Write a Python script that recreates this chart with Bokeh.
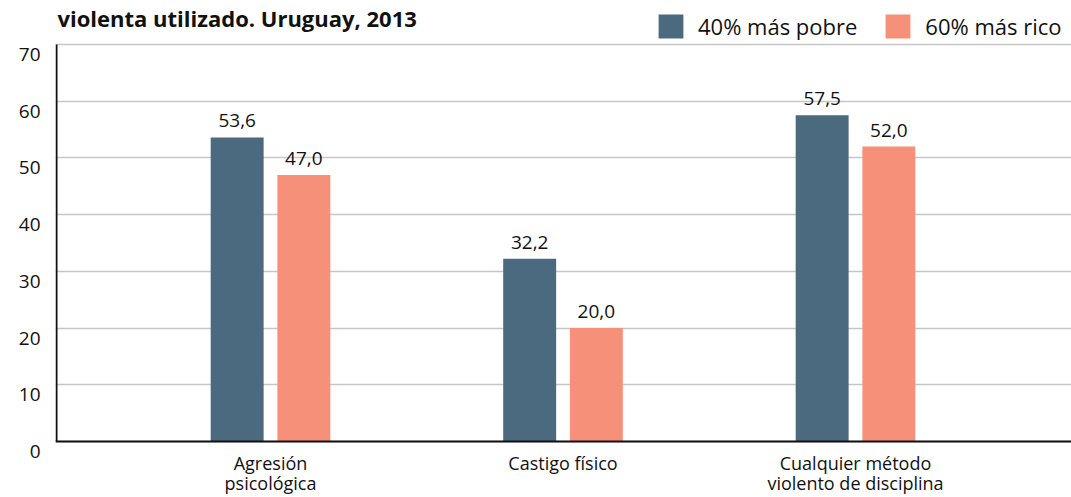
from bokeh.plotting import figure
from bokeh.models import (Range1d, FixedTicker, Label, Legend, LegendItem, ColumnDataSource,
                          LinearAxis, Span)
from bokeh.transform import dodge
from bokeh.core.properties import value
from bokeh.embed import file_html
from bokeh.resources import INLINE

categories = ["Agresión\npsicológica", "Castigo físico", "Cualquier método\nviolento de disciplina"]
series_names = ["40% más pobre", "60% más rico"]
pobre = [53.6, 32.2, 57.5]
rico = [47.0, 20.0, 52.0]
y_ticks = [0, 10, 20, 30, 40, 50, 60, 70]
title_text = "violenta utilizado. Uruguay, 2013"

c_pobre = "#4b6a80"
c_rico = "#f79078"
FONT = "Open Sans"
INK = "#111111"

# geometry of the frame
W, H = 1071, 497
LEFT, BOTTOM = 55, 45
PX_X = 292.5                       # pixels per category step
PX_Y = 398 / 70                    # pixels per y unit
frame_w = W - LEFT
frame_h = H - BOTTOM
x_start = -(270 - LEFT) / PX_X
y_start = -10 / PX_Y               # frame extends 10px below zero
y_end = y_start + frame_h / PX_Y
shift = -y_start                   # label axis shifted so labels sit 10px below gridlines

idx = list(range(len(categories)))
line1 = {i: c.split("\n")[0] for i, c in zip(idx, categories)}
line2 = {i: (c.split("\n")[1] if "\n" in c else "") for i, c in zip(idx, categories)}

src = ColumnDataSource(dict(
    x=idx,
    pobre=pobre,
    rico=rico,
    pobre_lbl=[f"{v:.1f}".replace(".", ",") for v in pobre],
    rico_lbl=[f"{v:.1f}".replace(".", ",") for v in rico],
))

p = figure(width=W, height=H, output_backend="svg", toolbar_location=None,
           x_range=Range1d(x_start, x_start + frame_w / PX_X), y_range=Range1d(y_start, y_end),
           min_border_left=LEFT, min_border_right=0, min_border_top=0, min_border_bottom=BOTTOM)
p.outline_line_color = None
p.background_fill_color = "white"
p.border_fill_color = "white"

# grid
p.xgrid.grid_line_color = None
p.ygrid.ticker = FixedTicker(ticks=y_ticks)
p.ygrid.grid_line_color = "#c6c6c6"
p.ygrid.grid_line_width = 1.5

off = 0.114
bw = 0.181
r1 = p.vbar(x=dodge("x", -off), top="pobre", width=bw, source=src, fill_color=c_pobre, line_color=None)
r2 = p.vbar(x=dodge("x", off), top="rico", width=bw, source=src, fill_color=c_rico, line_color=None)

p.text(x=dodge("x", -off), y="pobre", text="pobre_lbl", source=src, text_align="center",
       text_baseline="bottom", y_offset=-10, text_font=value(FONT), text_font_size="19px",
       text_color=INK)
p.text(x=dodge("x", off), y="rico", text="rico_lbl", source=src, text_align="center",
       text_baseline="bottom", y_offset=-10, text_font=value(FONT), text_font_size="19px",
       text_color=INK)

# axis lines
p.segment(x0=[x_start + 1 / PX_X], y0=[y_ticks[0]], x1=[x_start + 1 / PX_X], y1=[y_ticks[-1]],
          line_color=INK, line_width=2)
p.add_layout(Span(location=0, dimension="width", line_color=INK, line_width=2))


def style_x(ax, labels, standoff):
    ax.ticker = FixedTicker(ticks=idx)
    ax.major_label_overrides = labels
    ax.major_label_text_font = FONT
    ax.major_label_text_font_size = "18px"
    ax.major_label_text_color = INK
    ax.major_label_standoff = standoff
    ax.major_tick_line_color = None
    ax.major_tick_out = 0
    ax.minor_tick_line_color = None
    ax.axis_line_color = None


# x axis: two stacked axes for the two label lines
style_x(p.xaxis[0], line1, -1)
ax2 = LinearAxis()
style_x(ax2, line2, -7)
p.add_layout(ax2, "below")

# y axis: main hidden, labels on a shifted range
p.yaxis[0].visible = False
p.extra_y_ranges = {"labels": Range1d(y_start + shift, y_end + shift)}
yl = LinearAxis(y_range_name="labels", ticker=FixedTicker(ticks=y_ticks))
yl.major_label_text_font = FONT
yl.major_label_text_font_size = "19px"
yl.major_label_text_color = INK
yl.major_label_standoff = 15
yl.major_tick_line_color = None
yl.major_tick_out = 0
yl.minor_tick_line_color = None
yl.axis_line_color = None
p.add_layout(yl, "left")

# title (its first line is outside the picture)
p.add_layout(Label(x=2, y=frame_h - 18, x_units="screen", y_units="screen", text=title_text,
                   text_align="left", text_baseline="alphabetic", text_font=FONT,
                   text_font_style="bold", text_font_size="22px", text_color=INK))

legend = Legend(items=[LegendItem(label=series_names[0], renderers=[r1]),
                       LegendItem(label=series_names[1], renderers=[r2])],
                location=(655 - LEFT, frame_h - 42), orientation="horizontal")
legend.label_text_font = FONT
legend.label_text_font_size = "22px"
legend.label_text_color = INK
legend.glyph_width = 31
legend.glyph_height = 30
legend.label_height = 30
legend.label_standoff = 12
legend.spacing = 25
legend.padding = 0
legend.margin = 0
legend.border_line_color = None
legend.background_fill_alpha = 0
p.add_layout(legend)

open("out.html", "w").write(file_html(p, INLINE))
